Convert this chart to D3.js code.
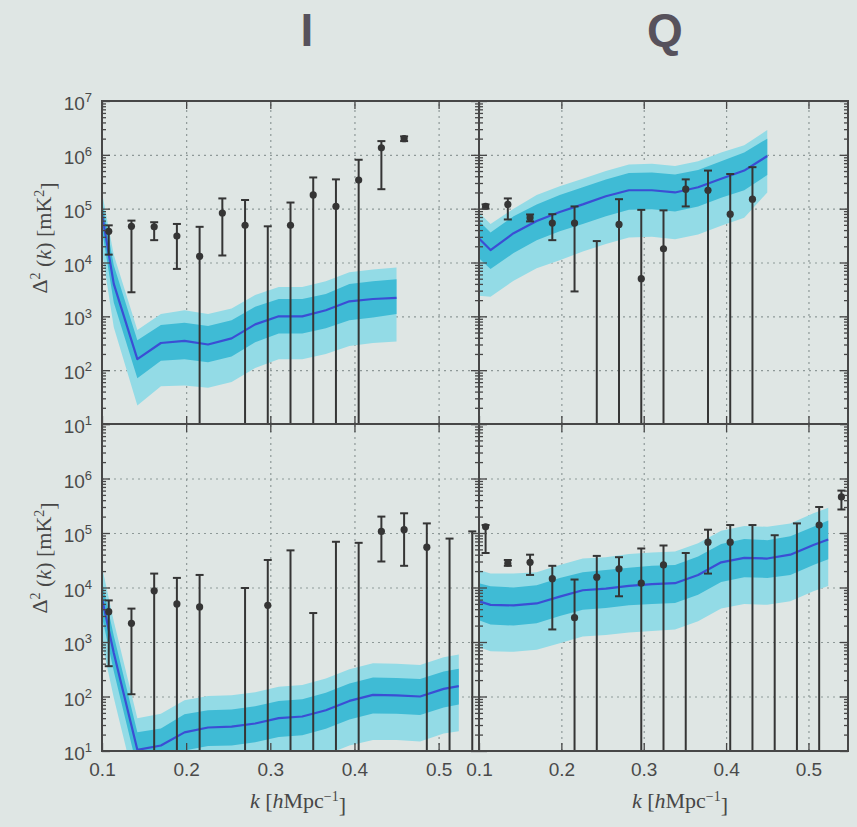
<html>
  <head>
    <style>
      body {
        margin: 0;
        background: #dfe6e4;
      }
      svg {
        display: block;
        font-family: "DejaVu Sans", sans-serif;
      }
      .frame {
        fill: none;
        stroke: #474747;
        stroke-width: 2;
      }
      .grid line {
        stroke: #8e9998;
        stroke-width: 1.2;
        stroke-dasharray: 2, 4;
      }
      .grid path,
      .ticks path,
      .labels path {
        display: none;
      }
      .ticks line {
        stroke: #474747;
        stroke-width: 1.3;
      }
      .labels text {
        fill: #4a4a4a;
        font-size: 19px;
      }
      .band-outer {
        fill: #93dbe6;
      }
      .band-inner {
        fill: #3fbbd5;
      }
      .model {
        fill: none;
        stroke: #3b4ed4;
        stroke-width: 2.2;
        stroke-linejoin: round;
      }
      .err line {
        stroke: #353535;
        stroke-width: 2;
      }
      .err circle {
        fill: #353535;
      }
      .title {
        font-family: "Liberation Sans", Arial, sans-serif;
        font-weight: bold;
        font-size: 46px;
        fill: #57525c;
        text-anchor: middle;
      }
      .axis-title {
        font-family: "Liberation Serif", "Times New Roman", serif;
        font-size: 22px;
        fill: #474747;
        text-anchor: middle;
      }
    </style>
  </head>
  <body>
    <script src="https://cdn.jsdelivr.net/npm/d3@7"></script>
    <script>
      // k bins of the measured points
      const kBins = [0.108, 0.135, 0.162, 0.189, 0.216, 0.243, 0.270, 0.297, 0.324,
        0.351, 0.378, 0.405, 0.432, 0.459, 0.486, 0.513, 0.540];
      // k grid of the model curves
      const kModel = [0.100, 0.114, 0.142, 0.170, 0.198, 0.226, 0.254, 0.282, 0.310,
        0.338, 0.366, 0.394, 0.422, 0.450, 0.478, 0.506, 0.524];

      // I, top row
      const iTopMid = [7.9e4, 4.0e3, 160, 320, 350, 300, 390, 710, 1000, 1000, 1300, 1900, 2100, 2200];
      const iTopIn1Hi = [1.4e5, 8.9e3, 360, 690, 760, 660, 850, 1500, 2100, 2100, 2600, 4000, 4500, 4900];
      const iTopIn1Lo = [4.0e4, 1800, 71, 150, 160, 140, 180, 330, 480, 480, 600, 850, 950, 1100];
      const iTopIn2Hi = [2.0e5, 1.4e4, 560, 1100, 1300, 1100, 1400, 2500, 3500, 3500, 4500, 6600, 7400, 8100];
      const iTopIn2Lo = [1.6e4, 630, 22, 50, 52, 47, 60, 110, 160, 160, 200, 280, 320, 340];
      const iTopVal = [3.8e4, 4.7e4, 4.6e4, 3.1e4, 1.3e4, 8.3e4, 4.9e4, null, 4.9e4, 1.8e5, 1.1e5, 3.4e5, 1.35e6, 2.0e6];
      const iTopHi = [4.9e4, 6.0e4, 5.6e4, 5.2e4, 4.6e4, 1.55e5, 1.45e5, 4.7e4, 1.3e5, 3.8e5, 3.5e5, 8.1e5, 1.8e6, 2.2e6];
      const iTopLo = [1.4e4, 2.8e3, 2.6e4, 7.6e3, null, 1.35e4, null, null, null, null, null, null, 2.3e5, 1.8e6];

      // Q, top row
      const qTopMid = [2.8e4, 1.7e4, 3.5e4, 5.9e4, 8.7e4, 1.2e5, 1.7e5, 2.2e5, 2.2e5, 2.0e5, 2.5e5, 3.6e5, 5.1e5, 9.5e5];
      const qTopIn1Hi = [5.9e4, 3.6e4, 7.2e4, 1.2e5, 1.8e5, 2.5e5, 3.5e5, 4.6e5, 4.7e5, 4.3e5, 5.2e5, 7.6e5, 1.1e6, 2.0e6];
      const qTopIn1Lo = [1.2e4, 7.6e3, 1.5e4, 2.6e4, 3.8e4, 5.2e4, 7.2e4, 9.5e4, 9.8e4, 8.9e4, 1.1e5, 1.6e5, 2.2e5, 4.2e5];
      const qTopIn2Hi = [8.5e4, 5.2e4, 1.0e5, 1.8e5, 2.6e5, 3.6e5, 5.0e5, 6.6e5, 6.8e5, 6.2e5, 7.6e5, 1.1e6, 1.5e6, 2.9e6];
      const qTopIn2Lo = [2.4e3, 2.3e3, 4.6e3, 7.8e3, 1.1e4, 1.6e4, 2.2e4, 2.9e4, 3.0e4, 2.7e4, 3.3e4, 4.8e4, 6.8e4, 2.0e5];
      const qTopVal = [1.1e5, 1.2e5, 6.8e4, 5.4e4, 5.4e4, null, 5.1e4, 5.0e3, 1.8e4, 2.3e5, 2.2e5, 7.9e4, 1.5e5];
      const qTopHi = [1.2e5, 1.55e5, 7.8e4, 7.9e4, 1.1e5, 2.5e4, 1.5e5, 9.5e4, 9.3e4, 3.5e5, 5.1e5, 4.4e5, 5.9e5];
      const qTopLo = [1.0e5, 6.3e4, 5.8e4, 2.6e4, 2.9e3, null, null, null, null, 1.1e5, null, null, null];

      // I, bottom row
      const iBotMid = [6300, 630, 10.5, 12.6, 22, 27, 28, 32, 40, 43, 56, 83, 107, 105, 100, 138, 155];
      const iBotIn1Hi = [1.3e4, 1300, 22, 26, 47, 56, 58, 66, 83, 89, 117, 174, 224, 219, 209, 288, 324];
      const iBotIn1Lo = [2900, 290, 4.8, 5.8, 10.2, 12.3, 12.6, 14.5, 18, 19.5, 25.7, 38, 49, 48, 46, 63, 71];
      const iBotIn2Hi = [2.4e4, 2400, 40, 48, 85, 102, 105, 120, 151, 162, 214, 316, 407, 398, 380, 525, 589];
      const iBotIn2Lo = [950, 95, 1.6, 1.9, 3.4, 4.1, 4.2, 4.8, 6.0, 6.5, 8.5, 12.6, 16, 16, 15, 21, 23];
      const iBotVal = [3600, 2200, 8700, 5000, 4400, null, null, 4700, null, null, null, null, 1.07e5, 1.15e5, 5.5e4, null, null];
      const iBotHi = [5800, 4100, 1.8e4, 1.5e4, 1.7e4, null, 9800, 3.2e4, 4.8e4, 3400, 6.9e4, 6.6e4, 2.0e5, 2.3e5, 1.5e5, 7.9e4, 1.07e5];
      const iBotLo = [360, 110, null, null, null, null, null, null, null, null, null, null, 3.0e4, 2.5e4, null, null, null];

      // Q, bottom row
      const qBotMid = [5600, 4800, 4700, 5100, 6800, 8900, 9500, 1.07e4, 1.15e4, 1.2e4, 1.7e4, 2.9e4, 3.5e4, 3.4e4, 4.0e4, 6.0e4, 7.6e4];
      const qBotIn1Hi = [1.2e4, 1.05e4, 1.0e4, 1.1e4, 1.5e4, 1.9e4, 2.1e4, 2.3e4, 2.5e4, 2.6e4, 3.7e4, 6.3e4, 7.8e4, 7.4e4, 8.7e4, 1.3e5, 1.7e5];
      const qBotIn1Lo = [2500, 2100, 2000, 2200, 3000, 3900, 4200, 4700, 5000, 5200, 7400, 1.26e4, 1.55e4, 1.5e4, 1.7e4, 2.6e4, 3.3e4];
      const qBotIn2Hi = [2.1e4, 1.8e4, 1.8e4, 1.9e4, 2.6e4, 3.4e4, 3.6e4, 4.1e4, 4.4e4, 4.6e4, 6.5e4, 1.1e5, 1.35e5, 1.3e5, 1.5e5, 2.3e5, 2.9e5];
      const qBotIn2Lo = [800, 680, 660, 720, 950, 1260, 1350, 1500, 1600, 1700, 2400, 4100, 5000, 4800, 5600, 8500, 1.07e4];
      const qBotVal = [1.3e5, 2.8e4, 2.9e4, 1.45e4, 2.8e3, 1.55e4, 2.2e4, 1.2e4, 2.6e4, null, 6.8e4, 6.8e4, null, null, null, 1.4e5, 4.6e5];
      const qBotHi = [1.4e5, 3.2e4, 4.0e4, 2.5e4, 1.4e4, 3.8e4, 3.6e4, 5.2e4, 5.9e4, 4.3e4, 1.15e5, 1.4e5, 1.4e5, 9.1e4, 1.5e5, 3.0e5, 6.0e5];
      const qBotLo = [4.3e4, 2.5e4, 1.7e4, 1.7e3, null, null, 6.9e3, null, null, null, 1.8e4, null, null, null, null, null, 2.7e5];

      const titles = ["I", "Q"];
      const yTickVals = [1e1, 1e2, 1e3, 1e4, 1e5, 1e6, 1e7];
      const xTickVals = [0.1, 0.2, 0.3, 0.4, 0.5];

      const panels = [
        { col: 0, row: 0, mid: iTopMid, in1: [iTopIn1Lo, iTopIn1Hi], in2: [iTopIn2Lo, iTopIn2Hi], val: iTopVal, hi: iTopHi, lo: iTopLo },
        { col: 1, row: 0, mid: qTopMid, in1: [qTopIn1Lo, qTopIn1Hi], in2: [qTopIn2Lo, qTopIn2Hi], val: qTopVal, hi: qTopHi, lo: qTopLo },
        { col: 0, row: 1, mid: iBotMid, in1: [iBotIn1Lo, iBotIn1Hi], in2: [iBotIn2Lo, iBotIn2Hi], val: iBotVal, hi: iBotHi, lo: iBotLo },
        { col: 1, row: 1, mid: qBotMid, in1: [qBotIn1Lo, qBotIn1Hi], in2: [qBotIn2Lo, qBotIn2Hi], val: qBotVal, hi: qBotHi, lo: qBotLo },
      ];

      const colX = [[102, 479], [479, 848]];
      const rowY = [[101, 424], [424, 751]];

      const svg = d3.select("body").append("svg").attr("width", 857).attr("height", 827);

      svg.selectAll("text.title")
        .data(titles)
        .join("text")
        .attr("class", "title")
        .attr("x", (d, i) => [307, 665][i])
        .attr("y", 46)
        .text((d) => d);

      panels.forEach((p, pi) => {
        const [x0, x1] = colX[p.col];
        const [y0, y1] = rowY[p.row];
        const x = d3.scaleLinear().domain([0.1, 0.548]).range([x0, x1]);
        const y = d3.scaleLog().domain([10, 1e7]).range([y1, y0]);

        const clipId = "clip" + pi;
        svg.append("clipPath").attr("id", clipId)
          .append("rect").attr("x", x0).attr("y", y0).attr("width", x1 - x0).attr("height", y1 - y0);

        // grid
        svg.append("g").attr("class", "grid").attr("transform", `translate(${x0},0)`)
          .call(d3.axisLeft(y).tickValues(yTickVals.slice(1, -1)).tickSize(-(x1 - x0)).tickFormat(""));
        svg.append("g").attr("class", "grid").attr("transform", `translate(0,${y1})`)
          .call(d3.axisBottom(x).tickValues(xTickVals.slice(1)).tickSize(-(y1 - y0)).tickFormat(""));

        const body = svg.append("g").attr("clip-path", `url(#${clipId})`);

        const model = p.mid.map((v, i) => ({
          k: kModel[i], v,
          lo1: p.in1[0][i], hi1: p.in1[1][i],
          lo2: p.in2[0][i], hi2: p.in2[1][i],
        }));
        body.append("path").attr("class", "band-outer")
          .attr("d", d3.area().x((d) => x(d.k)).y0((d) => y(d.lo2)).y1((d) => y(d.hi2))(model));
        body.append("path").attr("class", "band-inner")
          .attr("d", d3.area().x((d) => x(d.k)).y0((d) => y(d.lo1)).y1((d) => y(d.hi1))(model));
        body.append("path").attr("class", "model")
          .attr("d", d3.line().x((d) => x(d.k)).y((d) => y(d.v))(model));

        // error bars
        const pts = p.hi.map((h, i) => ({ k: kBins[i], v: p.val[i], hi: h, lo: p.lo[i] }))
          .filter((d) => d.hi != null);
        const err = body.append("g").attr("class", "err");
        const cap = 4;
        const bar = err.selectAll("g").data(pts).join("g");
        bar.append("line")
          .attr("x1", (d) => x(d.k)).attr("x2", (d) => x(d.k))
          .attr("y1", (d) => y(d.hi))
          .attr("y2", (d) => (d.lo == null ? y1 + 2 : y(d.lo)));
        bar.append("line")
          .attr("x1", (d) => x(d.k) - cap).attr("x2", (d) => x(d.k) + cap)
          .attr("y1", (d) => y(d.hi)).attr("y2", (d) => y(d.hi));
        bar.filter((d) => d.lo != null).append("line")
          .attr("x1", (d) => x(d.k) - cap).attr("x2", (d) => x(d.k) + cap)
          .attr("y1", (d) => y(d.lo)).attr("y2", (d) => y(d.lo));
        bar.filter((d) => d.v != null).append("circle")
          .attr("cx", (d) => x(d.k)).attr("cy", (d) => y(d.v)).attr("r", 3.6);

        // inward ticks, major and minor
        const minor = y.ticks().filter((v) => !yTickVals.includes(v));
        [[d3.axisLeft, x0], [d3.axisRight, x1]].forEach(([ax, tx]) => {
          svg.append("g").attr("class", "ticks").attr("transform", `translate(${tx},0)`)
            .call(ax(y).tickValues(yTickVals).tickSize(-8).tickFormat(""));
          svg.append("g").attr("class", "ticks").attr("transform", `translate(${tx},0)`)
            .call(ax(y).tickValues(minor).tickSize(-4).tickFormat(""));
        });
        [[d3.axisBottom, y1], [d3.axisTop, y0]].forEach(([ax, ty]) => {
          svg.append("g").attr("class", "ticks").attr("transform", `translate(0,${ty})`)
            .call(ax(x).tickValues(xTickVals).tickSize(-8).tickFormat(""));
        });

        svg.append("rect").attr("class", "frame")
          .attr("x", x0).attr("y", y0).attr("width", x1 - x0).attr("height", y1 - y0);

        // tick labels
        if (p.col === 0) {
          const vals = p.row === 0 ? yTickVals : yTickVals.slice(0, -1);
          const gy = svg.append("g").attr("class", "labels").attr("transform", `translate(${x0},0)`)
            .call(d3.axisLeft(y).tickValues(vals).tickSize(0).tickPadding(10).tickFormat(() => "10"));
          gy.selectAll(".tick text").attr("dy", "0.45em")
            .append("tspan").attr("dy", "-0.6em").attr("font-size", "13px")
            .text((d) => Math.round(Math.log10(d)));
        }
        if (p.row === 1) {
          svg.append("g").attr("class", "labels").attr("transform", `translate(0,${y1})`)
            .call(d3.axisBottom(x).tickValues(xTickVals).tickSize(0).tickPadding(12).tickFormat(d3.format(".1f")));
        }
      });

      // axis titles
      [238, 558].forEach((cy) => {
        const t = svg.append("text").attr("class", "axis-title")
          .attr("transform", `translate(47,${cy}) rotate(-90)`);
        t.append("tspan").text("Δ");
        t.append("tspan").attr("dy", "-0.5em").attr("font-size", "14px").text("2");
        t.append("tspan").attr("dy", "0.5em").text(" (");
        t.append("tspan").attr("font-style", "italic").text("k");
        t.append("tspan").text(") [mK");
        t.append("tspan").attr("dy", "-0.5em").attr("font-size", "14px").text("2");
        t.append("tspan").attr("dy", "0.5em").text("]");
      });
      [298, 680].forEach((cx) => {
        const t = svg.append("text").attr("class", "axis-title").attr("x", cx).attr("y", 808);
        t.append("tspan").attr("font-style", "italic").text("k");
        t.append("tspan").text(" [");
        t.append("tspan").attr("font-style", "italic").text("h");
        t.append("tspan").text("Mpc");
        t.append("tspan").attr("dy", "-0.5em").attr("font-size", "14px").text("−1");
        t.append("tspan").attr("dy", "0.5em").text("]");
      });
    </script>
  </body>
</html>
